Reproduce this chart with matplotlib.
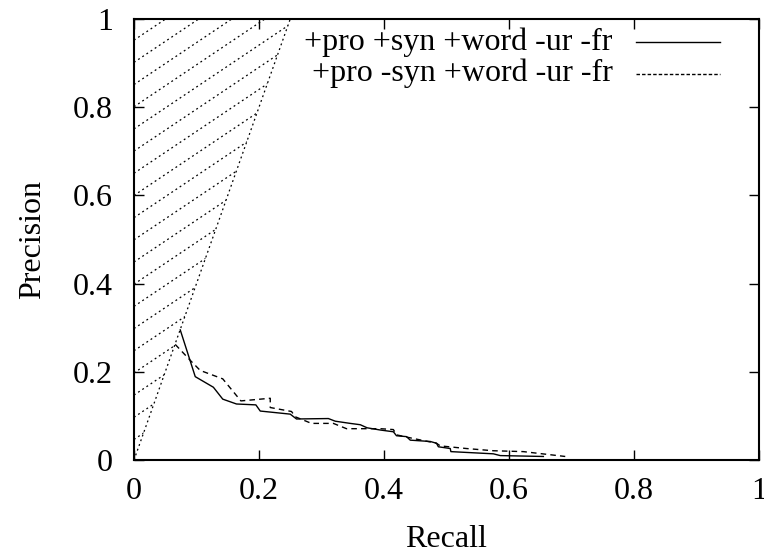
import numpy as np
import matplotlib
matplotlib.use('Agg')
import matplotlib.pyplot as plt
from matplotlib.patches import Polygon

plt.rcParams['font.family'] = ['Liberation Serif', 'DejaVu Serif']

# data
solid_label = '+pro +syn +word -ur -fr'
solid_r = [0.074, 0.098, 0.127, 0.142, 0.164, 0.195, 0.202, 0.250, 0.260, 0.311,
           0.322, 0.346, 0.362, 0.373, 0.394, 0.415, 0.420, 0.436, 0.442, 0.474,
           0.484, 0.487, 0.506, 0.507, 0.575, 0.586, 0.655]
solid_p = [0.295, 0.189, 0.165, 0.138, 0.127, 0.125, 0.111, 0.104, 0.093, 0.094,
           0.088, 0.083, 0.080, 0.073, 0.068, 0.064, 0.055, 0.053, 0.045, 0.042,
           0.038, 0.030, 0.026, 0.019, 0.014, 0.010, 0.008]

dashed_label = '+pro -syn +word -ur -fr'
dashed_r = [0.066, 0.090, 0.106, 0.142, 0.171, 0.218, 0.218, 0.252, 0.258, 0.284,
            0.319, 0.340, 0.394, 0.415, 0.420, 0.446, 0.484, 0.490, 0.532, 0.575,
            0.623, 0.690]
dashed_p = [0.262, 0.226, 0.203, 0.184, 0.134, 0.140, 0.119, 0.110, 0.098, 0.083,
            0.083, 0.071, 0.071, 0.069, 0.057, 0.049, 0.038, 0.032, 0.026, 0.021,
            0.019, 0.008]

# boundary of the shaded zone
bound_r = [0.0, 0.25]
bound_p = [0.0, 1.0]

ticks = [0, 0.2, 0.4, 0.6, 0.8, 1]
tick_labels = ['0', '0.2', '0.4', '0.6', '0.8', '1']

fig = plt.figure(figsize=(7.64, 5.54), dpi=100)
ax = fig.add_axes([134 / 764, 94 / 554, 625 / 764, 441 / 554])

dotted = (0, (1.5, 2.5))

# shaded zone: hatched with dotted lines
zone = Polygon([(bound_r[0], bound_p[0]), (bound_r[1], bound_p[1]), (0, 1)],
               closed=True, fill=False, edgecolor='none')
ax.add_patch(zone)
xs = np.array([0.0, 1.0])
for c in np.arange(0.952, 0.0, -0.0503):
    ln, = ax.plot(xs, 0.95 * xs + c, color='black', lw=0.9, linestyle=dotted)
    ln.set_clip_path(zone)
ax.plot(bound_r, bound_p, color='black', lw=0.9, linestyle=dotted)

ax.plot(solid_r, solid_p, color='black', lw=1.0)
ax.plot(dashed_r, dashed_p, color='black', lw=1.0, linestyle=(0, (4, 3)))

# gnuplot-like key
ax.text(0.766, 0.948, solid_label, transform=ax.transAxes, ha='right', va='center', fontsize=23)
ax.text(0.766, 0.876, dashed_label, transform=ax.transAxes, ha='right', va='center', fontsize=23)
ax.plot([0.803, 0.938], [0.948, 0.948], transform=ax.transAxes, color='black', lw=1.0)
ax.plot([0.803, 0.938], [0.876, 0.876], transform=ax.transAxes, color='black', lw=1.0,
        linestyle=(0, (2.5, 1.5)))

ax.set_xlim(0, 1)
ax.set_ylim(0, 1)
ax.set_xticks(ticks)
ax.set_xticklabels(tick_labels)
ax.set_yticks(ticks)
ax.set_yticklabels(tick_labels)
ax.tick_params(direction='in', length=7, width=1, top=True, right=True,
               labelsize=23, pad=12)
ax.tick_params(axis='y', pad=15)
for s in ax.spines.values():
    s.set_linewidth(1.5)

ax.set_xlabel('Recall', fontsize=23, labelpad=14)
ax.set_ylabel('Precision', fontsize=23, labelpad=19)

fig.savefig('out.png', dpi=100)
